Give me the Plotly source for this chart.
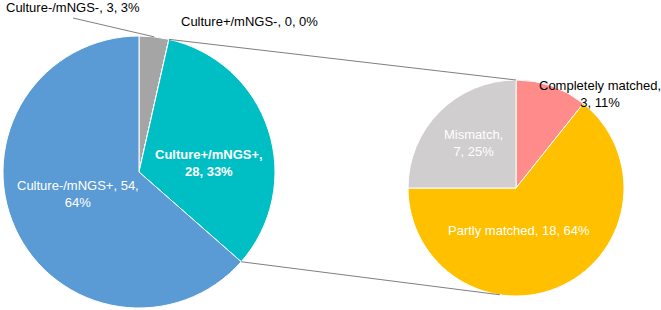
import math
import plotly.graph_objects as go

# ---- data ----
main_labels = ["Culture-/mNGS-", "Culture+/mNGS-", "Culture+/mNGS+", "Culture-/mNGS+"]
main_values = [3, 0, 28, 54]
main_pcts = ["3%", "0%", "33%", "64%"]
main_colors = ["#A5A5A5", "#ED7D31", "#00BFC4", "#5B9BD5"]

sub_labels = ["Completely matched", "Partly matched", "Mismatch"]
sub_values = [3, 18, 7]
sub_pcts = ["11%", "64%", "25%"]
sub_colors = ["#FF8B8B", "#FFC000", "#D0CECE"]

W, H = 661, 310
FONT = "Liberation Sans, Arial, sans-serif"

# pie geometry in pixels (center x, center y, radius)
L = (139, 172, 136)
R = (516, 188, 108)


def dom(c):
    cx, cy, r = c
    return dict(x=[(cx - r) / W, (cx + r) / W], y=[1 - (cy + r) / H, 1 - (cy - r) / H])


def pt(c, deg):
    cx, cy, r = c
    a = math.radians(deg)
    return cx + r * math.sin(a), cy - r * math.cos(a)


fig = go.Figure()
fig.add_trace(go.Pie(labels=main_labels, values=main_values, sort=False, direction="clockwise",
                     rotation=0, textinfo="none", domain=dom(L), showlegend=False,
                     marker=dict(colors=main_colors, line=dict(color="white", width=1))))
fig.add_trace(go.Pie(labels=sub_labels, values=sub_values, sort=False, direction="clockwise",
                     rotation=0, textinfo="none", domain=dom(R), showlegend=False,
                     marker=dict(colors=sub_colors, line=dict(color="white", width=1))))

tot = sum(main_values)
ang_top = 360 * (main_values[0] + main_values[1]) / tot
ang_bot = 360 * (main_values[0] + main_values[1] + main_values[2]) / tot
mid_gray = 360 * main_values[0] / tot / 2

shapes = []


def line(p1, p2, color="#7F7F7F"):
    shapes.append(dict(type="line", xref="paper", yref="paper",
                       x0=p1[0] / W, y0=1 - p1[1] / H, x1=p2[0] / W, y1=1 - p2[1] / H,
                       line=dict(color=color, width=1)))


line(pt(L, ang_top), pt(R, 0))
line(pt(L, ang_bot), pt(R, 188.6))
line((73, 18), pt(L, mid_gray))

ann = []


def text(px, py, s, color="black", bold=False):
    if bold:
        s = "<b>" + s.replace("<br>", "</b><br><b>") + "</b>"
    ann.append(dict(x=px / W, y=1 - py / H, xref="paper", yref="paper", text=s,
                    showarrow=False, xanchor="center", yanchor="middle", align="center",
                    font=dict(family=FONT, size=13, color=color)))


def lab(names, vals, pcts, i):
    return f"{names[i]}, {vals[i]}, {pcts[i]}"


text(73, 8, lab(main_labels, main_values, main_pcts, 0), color="#000000")
text(250, 22, lab(main_labels, main_values, main_pcts, 1), color="#000000")
text(209, 163, f"{main_labels[2]},<br>{main_values[2]}, {main_pcts[2]}", color="white", bold=True)
text(78, 194, f"{main_labels[3]}, {main_values[3]},<br>{main_pcts[3]}", color="white")
text(473, 143, f"{sub_labels[2]},<br>{sub_values[2]}, {sub_pcts[2]}", color="white")
text(600, 94, f"{sub_labels[0]},<br>{sub_values[0]}, {sub_pcts[0]}", color="black")
text(519, 230, lab(sub_labels, sub_values, sub_pcts, 1), color="white")

fig.update_layout(width=W, height=H, margin=dict(l=0, r=0, t=0, b=0),
                  paper_bgcolor="white", plot_bgcolor="white",
                  shapes=shapes, annotations=ann, showlegend=False)
fig.write_html("out.html")
